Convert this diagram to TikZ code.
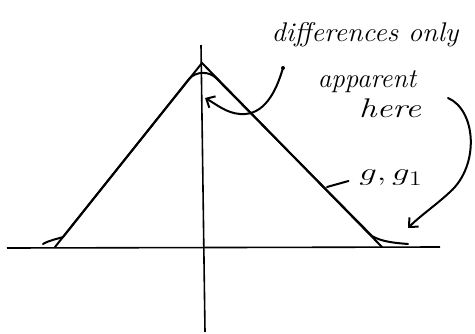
\documentclass[tikz,border=0pt]{standalone}
\usetikzlibrary{arrows.meta}
\begin{document}
\begin{tikzpicture}[x=1pt,y=-1pt,
  ink/.style={line width=2pt,line cap=round,line join=round},
  axis/.style={line width=1.6pt},
  note/.style={font=\itshape\fontsize{27}{30}\selectfont,inner sep=0pt},
  pointer/.style={ink,-{Straight Barb[length=7pt,width=13pt,line width=2pt]}}]
\useasboundingbox (0,0) rectangle (475,333);
% axes
\coordinate (xl) at (7,248); \coordinate (xr) at (440,247);
\coordinate (yt) at (201,45); \coordinate (yb) at (205,332);
\draw[axis] (xl) -- (xr);
\draw[axis] (yt) -- (yb);
% g : triangle
\coordinate (lb) at (55,247); \coordinate (pk) at (202,63); \coordinate (rb) at (382,247);
\draw[ink] (lb) -- (pk) -- (rb);
% g1 : rounded top, flared feet
\draw[ink] (43,244) .. controls (50,240) and (57,239) .. (63,237)
  -- (189,79) .. controls (196,71) and (209,71) .. (216,78)
  -- (372,236) .. controls (382,242) and (396,243) .. (408,244);
% labels
\node[note,xscale=1.05] (diff) at (365,35) {differences only};
\node[note,xscale=1.0] (app) at (367,82) {apparent};
\node[note,xscale=1.3] (here) at (390,108) {here};
\node[inner sep=0pt,font=\fontsize{30}{32}\selectfont,xscale=1.4] (glab) at (391,178) {$g, g_1$};
\coordinate (gtick) at (327,187);
\draw[ink,shorten >=11pt] (gtick) -- (glab.west);
% arrows
\coordinate (a1s) at (283,68); \coordinate (a1e) at (205,98);
\fill (a1s) circle (2pt);
\draw[pointer] (a1s) .. controls (276,92) and (264,116) .. (240,114)
  .. controls (226,113) and (216,104) .. (a1e);
\coordinate (a2s) at (448,98); \coordinate (a2e) at (408,228);
\draw[pointer] (a2s) .. controls (476,110) and (480,165) .. (450,192)
  .. controls (436,205) and (420,216) .. (a2e);
\end{tikzpicture}
\end{document}
